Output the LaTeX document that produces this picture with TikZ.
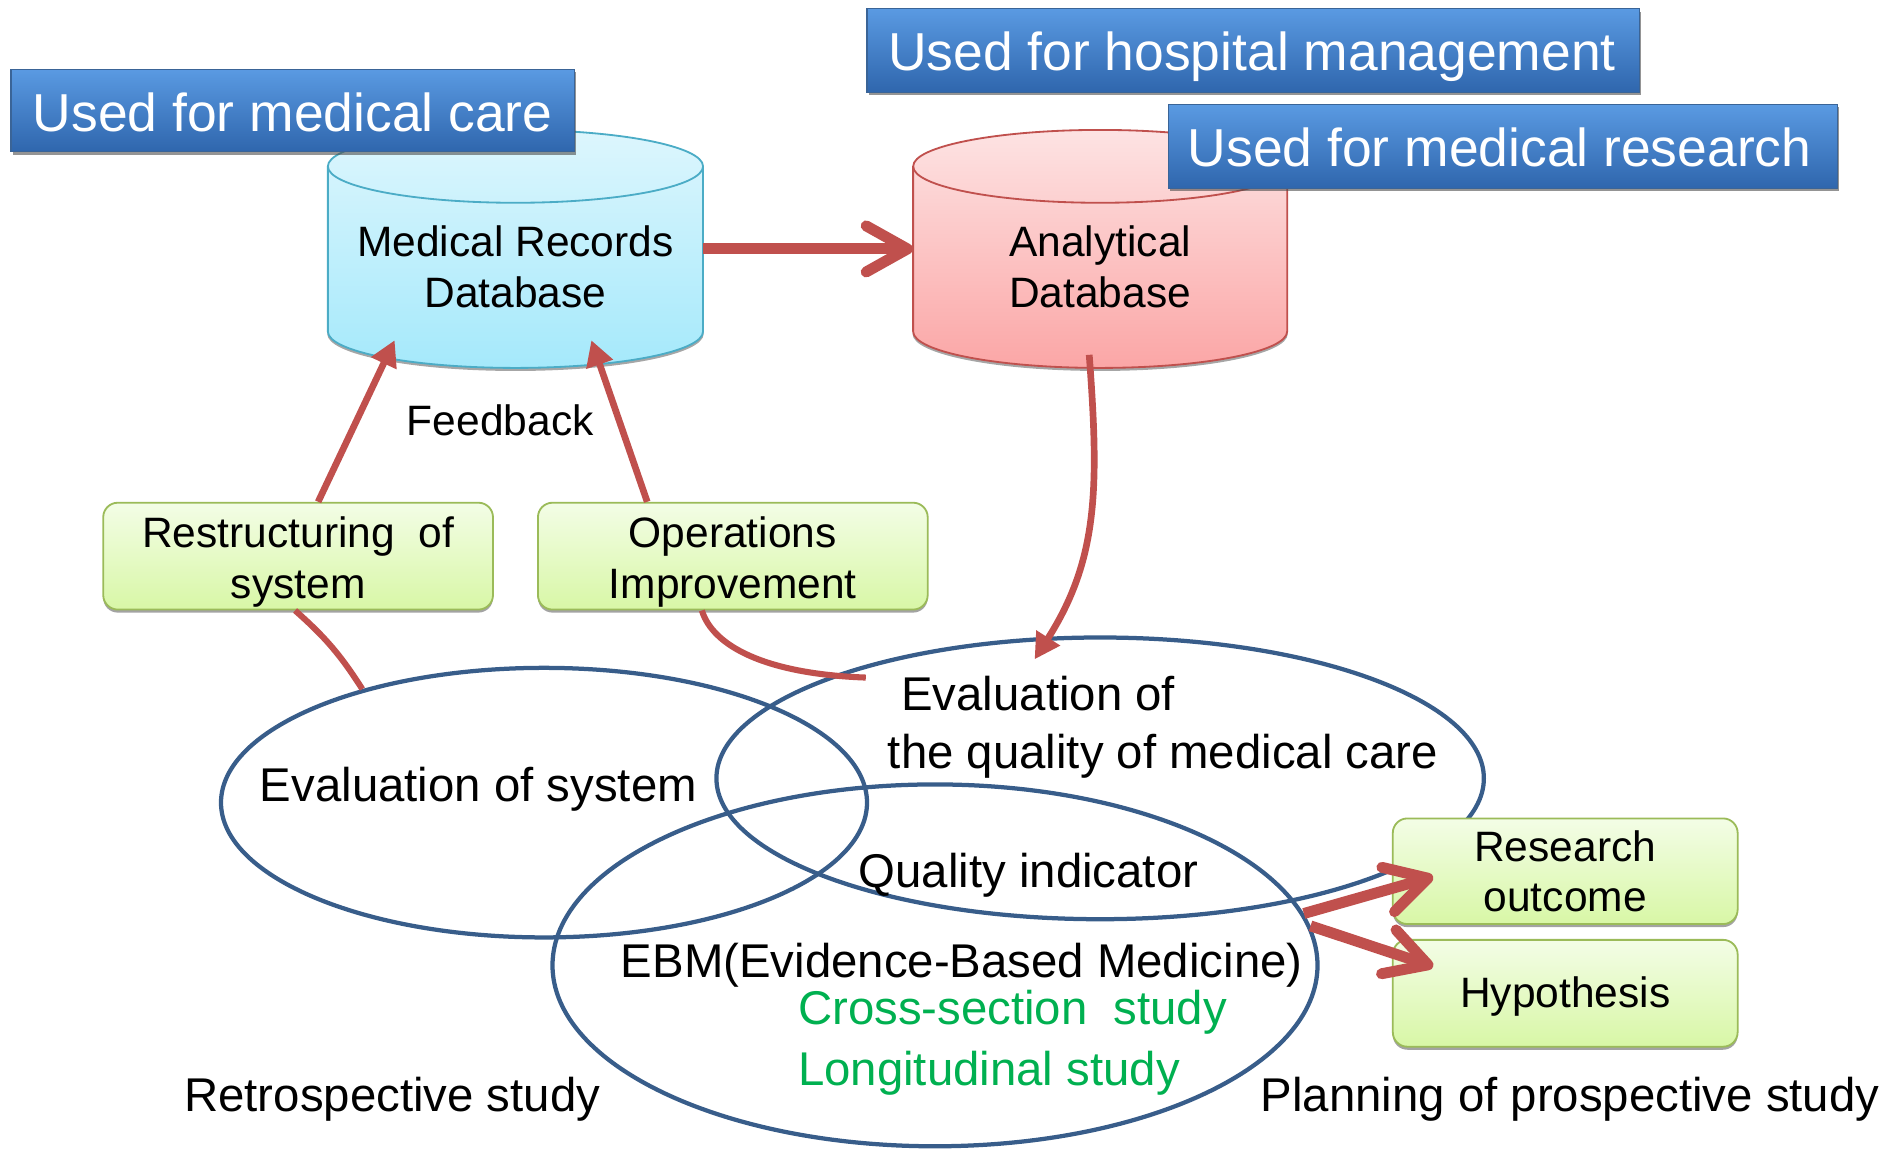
\documentclass[tikz,border=0pt]{standalone}
\usepackage{fontspec}
\setmainfont{Liberation Sans}
\usetikzlibrary{arrows.meta,shadows,shapes.geometric}
\definecolor{redc}{HTML}{C0504D}
\definecolor{ellc}{HTML}{385D8A}
\definecolor{grn}{HTML}{00B050}
\definecolor{gbord}{HTML}{9BBB59}
\definecolor{gtop}{HTML}{F3FDE6}
\definecolor{gbot}{HTML}{D8F7A6}
\definecolor{btop}{HTML}{5A9AE2}
\definecolor{bmid}{HTML}{3E7ECF}
\definecolor{bbot}{HTML}{2F66AD}
\definecolor{bbord}{HTML}{3A6497}
\definecolor{ctop}{HTML}{DDF6FD}
\definecolor{cbot}{HTML}{A5E9FB}
\definecolor{cbord}{HTML}{4BACC6}
\definecolor{ptop}{HTML}{FDE3E3}
\definecolor{pbot}{HTML}{FBA6A6}
\tikzset{
  bluebox/.style={rectangle, inner sep=0pt, top color=btop, middle color=bmid, bottom color=bbot,
    draw=bbord, line width=1pt,
    drop shadow={shadow xshift=1.5pt, shadow yshift=-2.5pt, opacity=0.6, fill=black!70}},
  greenbox/.style={rectangle, rounded corners=12pt, inner sep=0pt, top color=gtop, bottom color=gbot,
    draw=gbord, line width=1.5pt,
    drop shadow={shadow xshift=0pt, shadow yshift=-2.5pt, opacity=0.6, fill=black!60}},
  ring/.style={ellipse, draw=ellc, line width=3.5pt, inner sep=0pt},
  hold/.style={rectangle, inner sep=0pt},
  tbig/.style={font=\fontsize{44}{52}\selectfont, text=white, anchor=base, inner sep=0pt},
  tmid/.style={font=\fontsize{35}{42}\selectfont, anchor=base, inner sep=0pt},
  tell/.style={font=\fontsize{39}{47}\selectfont, anchor=base, inner sep=0pt},
  chev/.style={draw=redc, line width=9pt, -{Straight Barb[length=34pt, width=38pt, round]}},
  fb/.style={draw=redc, line width=5.5pt, -{Triangle[length=21pt, width=22pt]}},
  redline/.style={draw=redc, line width=5pt}
}
\begin{document}
\begin{tikzpicture}[x=1pt, y=1pt]
\useasboundingbox (0,0) rectangle (1568,946);
% ---------- cylinders ----------
\fill[black!35] (424.5,671) ellipse [x radius=155, y radius=30.5];
\path[top color=ctop, bottom color=cbot, draw=cbord, line width=1.5pt]
  (270,809) -- (270,673) arc[start angle=180, end angle=360, x radius=154.5, y radius=30]
  -- (579,809) arc[start angle=0, end angle=180, x radius=154.5, y radius=30] -- cycle;
\draw[cbord, line width=1.5pt] (270,809) arc[start angle=180, end angle=360, x radius=154.5, y radius=30];
\node[hold, minimum width=309pt, minimum height=196pt] (MR) at (424.5,741) {};

\fill[black!35] (906,671) ellipse [x radius=154.5, y radius=30.5];
\path[top color=ptop, bottom color=pbot, draw=redc, line width=1.5pt]
  (752,809) -- (752,673) arc[start angle=180, end angle=360, x radius=154, y radius=30]
  -- (1060,809) arc[start angle=0, end angle=180, x radius=154, y radius=30] -- cycle;
\draw[redc, line width=1.5pt] (752,809) arc[start angle=180, end angle=360, x radius=154, y radius=30];
\node[hold, minimum width=308pt, minimum height=196pt] (AD) at (906,741) {};

\node[tmid] (mr1) at (424.5,734.5) {Medical Records};
\node[tmid] (mr2) at (424.5,692.5) {Database};
\node[tmid] (ad1) at (906,734.5) {Analytical};
\node[tmid] (ad2) at (906,692.5) {Database};

% ---------- blue labels ----------
\node[bluebox, minimum width=464pt, minimum height=68pt] (B1) at (241,855) {};
\node[tbig] (b1t) at (241,838) {Used for medical care};
\node[bluebox, minimum width=636pt, minimum height=69pt] (B2) at (1032,904.5) {};
\node[tbig] (b2t) at (1031,888) {Used for hospital management};
\node[bluebox, minimum width=551pt, minimum height=69pt] (B3) at (1237.5,825.5) {};
\node[tbig] (b3t) at (1235,809) {Used for medical research};

% ---------- ellipses ----------
\node[ring, minimum width=532pt, minimum height=222pt] (EA) at (448,285) {};
\node[ring, minimum width=632pt, minimum height=232pt] (EB) at (906,305) {};
\node[ring, minimum width=630pt, minimum height=298pt] (EC) at (770,151) {};

% ---------- green boxes ----------
\node[greenbox, minimum width=321pt, minimum height=88pt] (R) at (245.5,488) {};
\node[tmid] (r1) at (245.5,495.5) {Restructuring~ of};
\node[tmid] (r2) at (245.5,453) {system};
\node[greenbox, minimum width=321pt, minimum height=88pt] (O) at (603.5,488) {};
\node[tmid] (o1) at (603.5,495.5) {Operations};
\node[tmid] (o2) at (603.5,453) {Improvement};
\node[greenbox, minimum width=284pt, minimum height=87pt] (RO) at (1289,228.5) {};
\node[tmid] (ro1) at (1289,236.4) {Research};
\node[tmid] (ro2) at (1289,195.2) {outcome};
\node[greenbox, minimum width=284pt, minimum height=88pt] (HY) at (1289,128) {};
\node[tmid] (hy1) at (1289,116) {Hypothesis};

% ---------- texts ----------
\node[tmid] (fbk) at (412,587.5) {Feedback};
\node[tell] (eas) at (394,286) {Evaluation of system};
\node[tell, anchor=base west] (eb1) at (742,361) {Evaluation of};
\node[tell, anchor=base west] (eb2) at (731,313) {the quality of medical care};
\node[tell] (qi) at (847,215) {Quality indicator};
\node[tell] (ebm) at (792,141) {EBM(Evidence-Based Medicine)};
\node[tell, anchor=base west, text=grn] (cs) at (657,102) {Cross-section~ study};
\node[tell, anchor=base west, text=grn] (ls) at (657,52) {Longitudinal study};
\node[tell] (rs) at (323,31) {Retrospective study};
\node[tell] (ps) at (1293,31) {Planning of prospective study};

% ---------- connectors ----------
\coordinate (qtip) at (852,403);
\coordinate (oend) at (713,388);
\draw[chev] (MR.east) -- (AD.west);
\draw[fb] ([shift={(-9pt,11pt)}]AD.south) .. controls (905,546) and (905,486) .. (qtip);
\draw[fb] ([xshift=16.5pt]R.north) -- ([shift={(-99.5pt,23pt)}]MR.south);
\draw[fb] ([xshift=-70.5pt]O.north) -- ([shift={(62.5pt,23pt)}]MR.south);
\draw[redline] ([xshift=-2.5pt]R.south) to[bend left=8] (EA.148.5);
\draw[redline] ([xshift=-25.5pt]O.south) .. controls (587,414) and (630,391) .. (oend);
\draw[chev] (EC.8.8) -- ([shift={(34pt,-4.5pt)}]RO.west);
\draw[chev] (EC.6.6) -- ([shift={(34pt,22pt)}]HY.west);
\end{tikzpicture}
\end{document}
